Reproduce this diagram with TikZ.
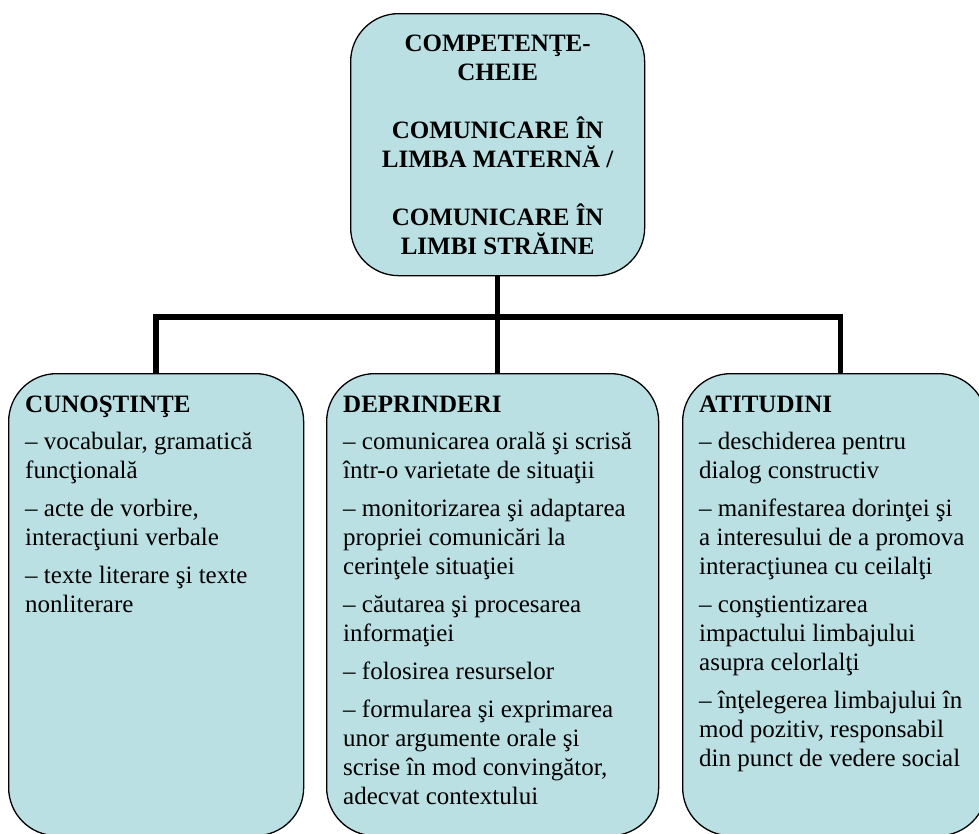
\documentclass[tikz,border=0pt]{standalone}
\usepackage{fontspec}
\setmainfont{Liberation Serif}
\definecolor{boxfill}{RGB}{187,224,227}
\tikzset{
  roundbox/.style={draw=black, line width=1.3pt, fill=boxfill, rounded corners=48pt, anchor=north west, inner sep=0pt},
  boxtext/.style={anchor=north west, inner sep=0pt, align=left, font=\fontsize{25}{29}\selectfont},
  connector/.style={line width=5.5pt, line join=miter}
}
\begin{document}
\begin{tikzpicture}[x=1pt,y=-1pt]
    \useasboundingbox (0,0) rectangle (979,833);
    \clip (0,0) rectangle (979,833);
    %
    \node[roundbox, minimum width=294pt, minimum height=262pt, align=center, font=\fontsize{25}{29}\selectfont\bfseries] (root) at (350,13)
      {COMPETENŢE-\\CHEIE\\[29pt]COMUNICARE ÎN\\LIMBA MATERNĂ /\\[29pt]COMUNICARE ÎN\\LIMBI STRĂINE};
    %
    \node[roundbox, minimum width=295pt, minimum height=462pt] (cunostinte) at (8,373) {};
    \node[roundbox, minimum width=332pt, minimum height=462pt] (deprinderi) at (326,373) {};
    \node[roundbox, minimum width=304pt, minimum height=462pt] (atitudini) at (682,373) {};
    %
    \node[boxtext] (cunostintetext) at ([shift={(17,23)}]cunostinte.north west)
      {\textbf{CUNOŞTINŢE}\\[8pt]– vocabular, gramatică\\funcţională\\[9pt]– acte de vorbire,\\interacţiuni verbale\\[9pt]– texte literare şi texte\\nonliterare};
    \node[boxtext] (deprinderitext) at ([shift={(17,23)}]deprinderi.north west)
      {\textbf{DEPRINDERI}\\[8pt]– comunicarea orală şi scrisă\\într-o varietate de situaţii\\[9pt]– monitorizarea şi adaptarea\\propriei comunicări la\\cerinţele situaţiei\\[9pt]– căutarea şi procesarea\\informaţiei\\[9pt]– folosirea resurselor\\[9pt]– formularea şi exprimarea\\unor argumente orale şi\\scrise în mod convingător,\\adecvat contextului};
    \node[boxtext] (atitudinitext) at ([shift={(17,23)}]atitudini.north west)
      {\textbf{ATITUDINI}\\[8pt]– deschiderea pentru\\dialog constructiv\\[9pt]– manifestarea dorinţei şi\\a interesului de a promova\\interacţiunea cu ceilalţi\\[9pt]– conştientizarea\\impactului limbajului\\asupra celorlalţi\\[9pt]– înţelegerea limbajului în\\mod pozitiv, responsabil\\din punct de vedere social};
    %
    \coordinate (bar) at (497,317);
    \draw[connector] (root.south) -- (root.south |- deprinderi.north);
    \draw[connector] (cunostinte.north) |- (bar) -| ([xshift=6pt]atitudini.north);
\end{tikzpicture}
\end{document}
